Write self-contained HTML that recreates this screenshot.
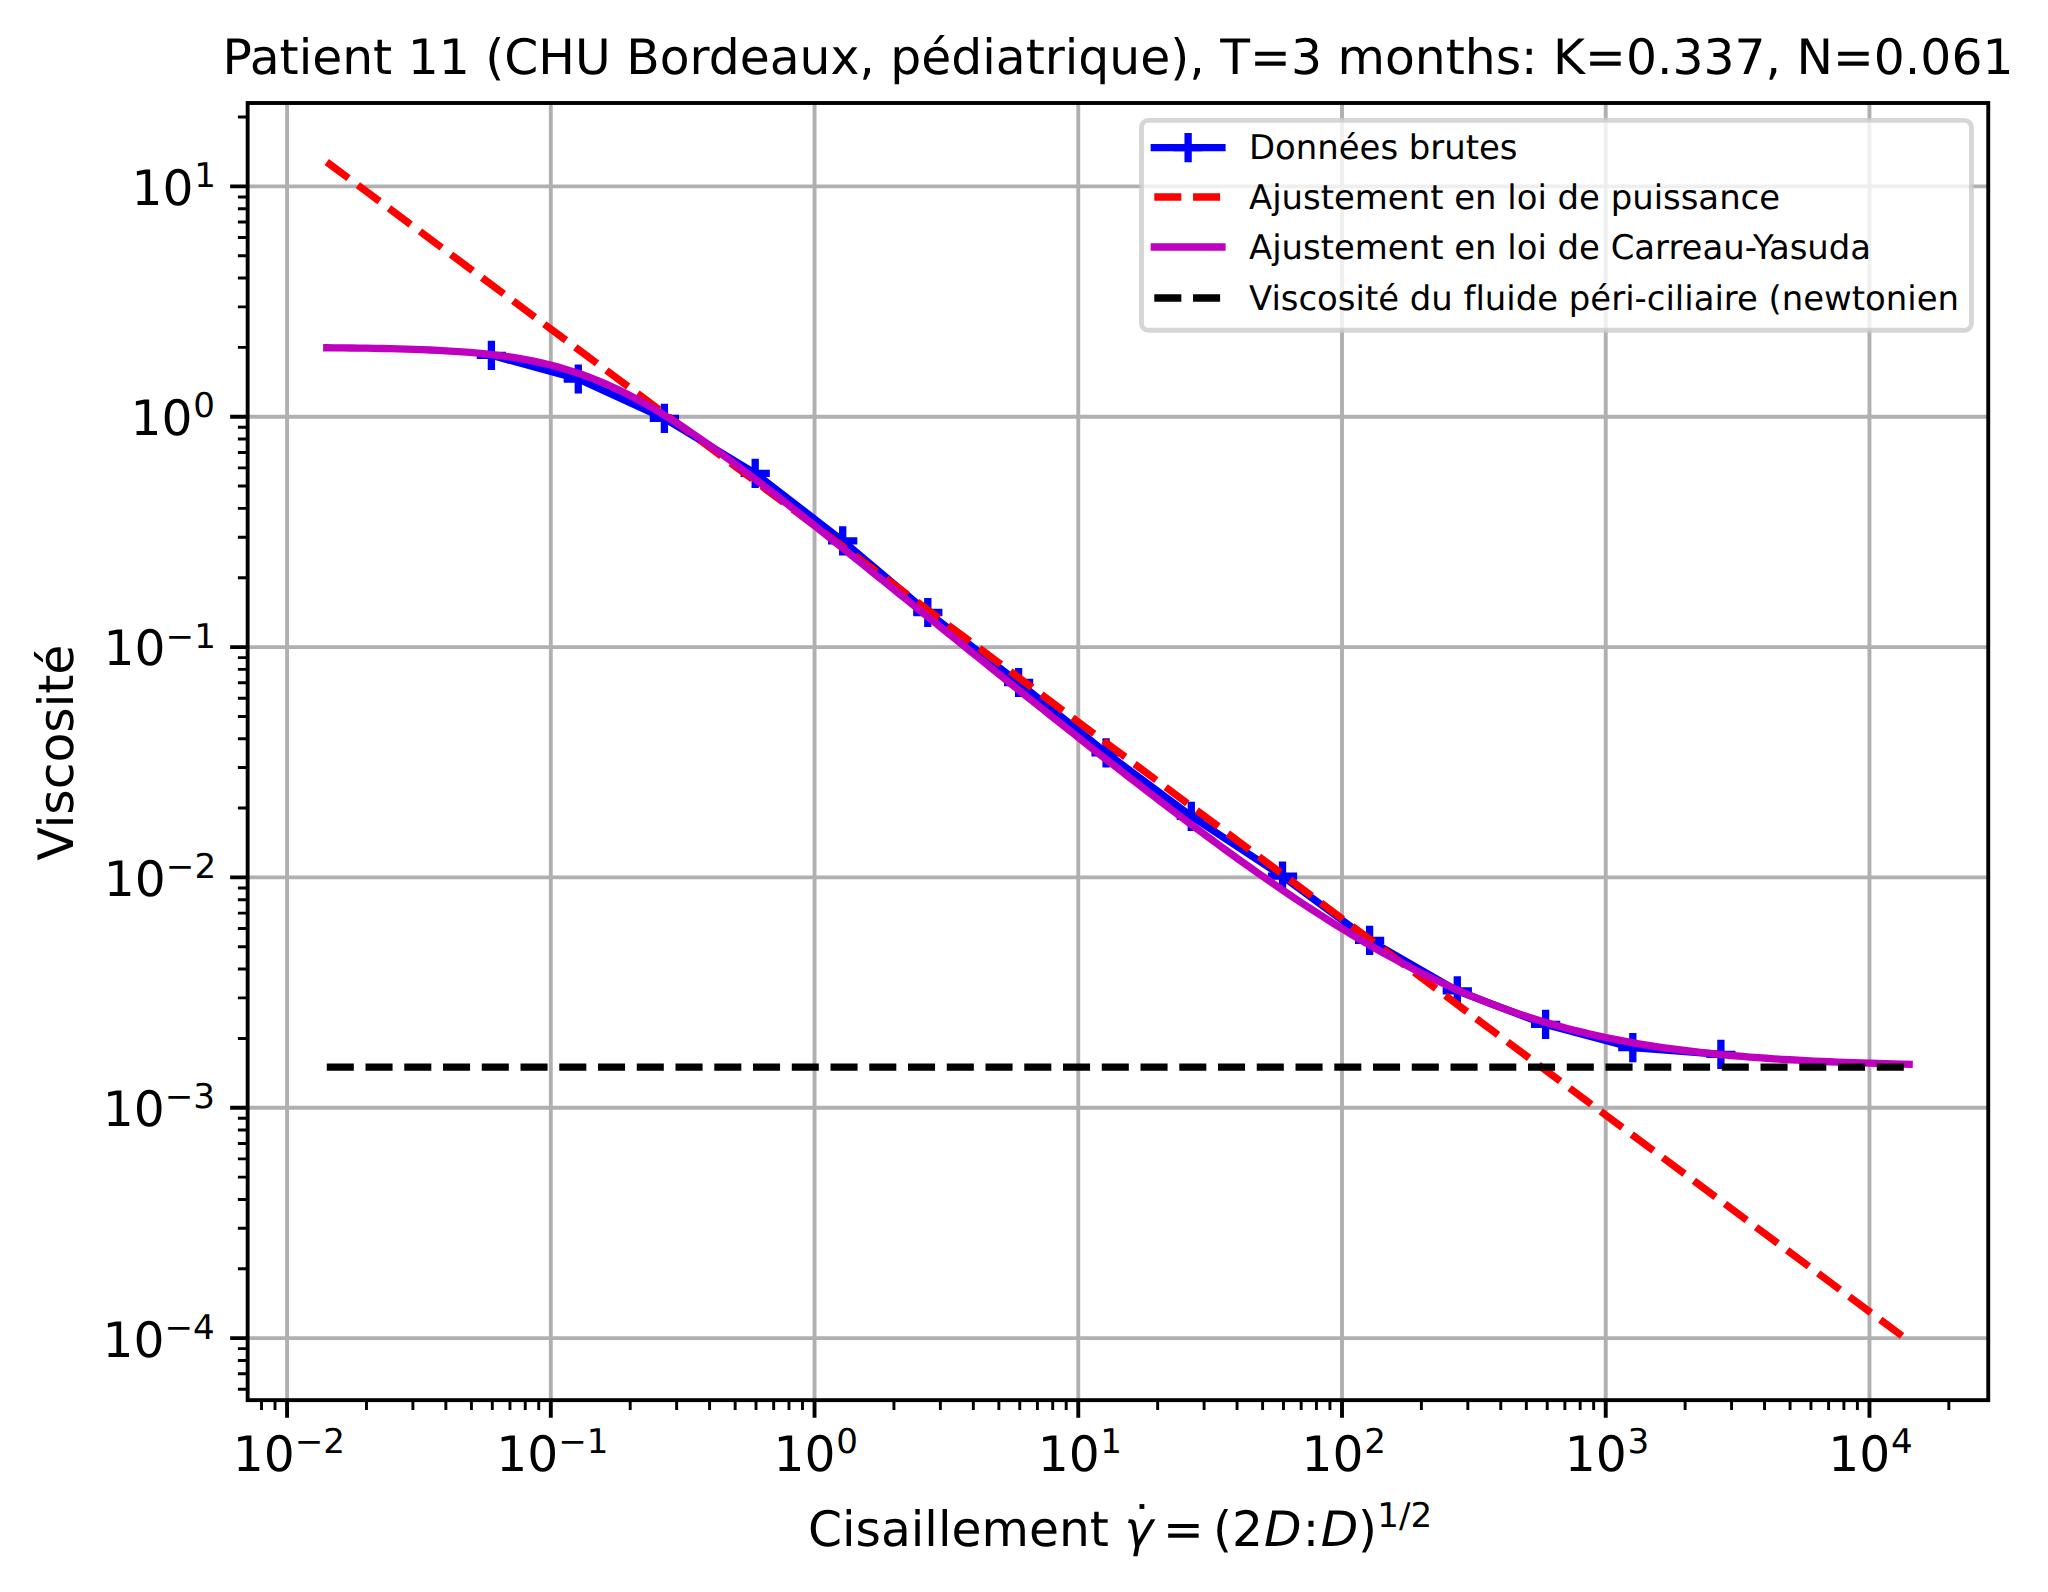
<!DOCTYPE html>
<html lang="fr"><head><meta charset="utf-8"><title>Patient 11</title>
<style>html,body{margin:0;padding:0;background:#fff}svg{display:block}text{text-rendering:geometricPrecision;font-variant-ligatures:none;font-family:"DejaVu Sans","Liberation Sans",sans-serif;fill:#000}.it{font-style:oblique}</style></head><body>
<svg width="2048" height="1592" viewBox="0 0 2048 1592">
<rect width="2048" height="1592" fill="#fff"/>
<defs><clipPath id="ax"><rect x="247.65" y="103.0" width="1740.60" height="1297.15"/></clipPath></defs>
<path d="M287.08 103.0V1400.15M550.81 103.0V1400.15M814.54 103.0V1400.15M1078.27 103.0V1400.15M1342.00 103.0V1400.15M1605.73 103.0V1400.15M1869.46 103.0V1400.15M247.65 1338.10H1988.25M247.65 1107.76H1988.25M247.65 877.42H1988.25M247.65 647.08H1988.25M247.65 416.74H1988.25M247.65 186.40H1988.25" stroke="#b0b0b0" stroke-width="3.90" fill="none"/>
<g clip-path="url(#ax)" fill="none">
<polyline points="491.40,355.30 578.30,379.00 664.40,418.40 755.20,473.30 842.70,540.80 927.80,612.50 1018.60,682.50 1106.10,752.80 1191.30,816.30 1282.50,876.20 1369.60,940.40 1457.30,990.95 1545.60,1024.45 1632.80,1047.60 1720.90,1054.40" stroke="#0000ff" stroke-width="7.31" stroke-linejoin="round" stroke-linecap="square"/>
<path d="M476.78 355.30h29.24M491.40 340.68v29.24M563.68 379.00h29.24M578.30 364.38v29.24M649.78 418.40h29.24M664.40 403.78v29.24M740.58 473.30h29.24M755.20 458.68v29.24M828.08 540.80h29.24M842.70 526.18v29.24M913.18 612.50h29.24M927.80 597.88v29.24M1003.98 682.50h29.24M1018.60 667.88v29.24M1091.48 752.80h29.24M1106.10 738.18v29.24M1176.68 816.30h29.24M1191.30 801.68v29.24M1267.88 876.20h29.24M1282.50 861.58v29.24M1354.98 940.40h29.24M1369.60 925.78v29.24M1442.68 990.95h29.24M1457.30 976.33v29.24M1530.98 1024.45h29.24M1545.60 1009.83v29.24M1618.18 1047.60h29.24M1632.80 1032.98v29.24M1706.28 1054.40h29.24M1720.90 1039.78v29.24" stroke="#0000ff" stroke-width="7.31"/>
<path d="M326.77 161.98L1909.15 1341.19" stroke="#ff0000" stroke-width="7.31" stroke-dasharray="27.05 11.70"/>
<polyline points="326.77,347.76 334.72,347.83 342.67,347.91 350.63,348.00 358.58,348.10 366.53,348.22 374.48,348.35 382.43,348.50 390.38,348.68 398.34,348.88 406.29,349.10 414.24,349.36 422.19,349.65 430.14,349.99 438.09,350.37 446.05,350.80 454.00,351.28 461.95,351.83 469.90,352.46 477.85,353.16 485.80,353.96 493.76,354.85 501.71,355.86 509.66,356.98 517.61,358.23 525.56,359.63 533.51,361.18 541.47,362.90 549.42,364.79 557.37,366.86 565.32,369.14 573.27,371.62 581.22,374.30 589.18,377.21 597.13,380.33 605.08,383.67 613.03,387.23 620.98,391.01 628.93,394.99 636.89,399.19 644.84,403.58 652.79,408.16 660.74,412.91 668.69,417.84 676.64,422.92 684.60,428.14 692.55,433.50 700.50,438.98 708.45,444.57 716.40,450.27 724.35,456.05 732.31,461.92 740.26,467.85 748.21,473.86 756.16,479.92 764.11,486.03 772.06,492.19 780.02,498.39 787.97,504.62 795.92,510.89 803.87,517.18 811.82,523.49 819.77,529.83 827.73,536.18 835.68,542.55 843.63,548.93 851.58,555.32 859.53,561.72 867.48,568.13 875.44,574.54 883.39,580.96 891.34,587.38 899.29,593.81 907.24,600.23 915.19,606.66 923.15,613.08 931.10,619.51 939.05,625.93 947.00,632.35 954.95,638.77 962.90,645.19 970.86,651.60 978.81,658.00 986.76,664.40 994.71,670.79 1002.66,677.18 1010.61,683.56 1018.57,689.93 1026.52,696.29 1034.47,702.64 1042.42,708.98 1050.37,715.31 1058.32,721.63 1066.28,727.94 1074.23,734.23 1082.18,740.51 1090.13,746.77 1098.08,753.02 1106.03,759.25 1113.99,765.46 1121.94,771.65 1129.89,777.82 1137.84,783.96 1145.79,790.09 1153.74,796.19 1161.70,802.26 1169.65,808.30 1177.60,814.32 1185.55,820.30 1193.50,826.25 1201.45,832.17 1209.41,838.05 1217.36,843.89 1225.31,849.69 1233.26,855.45 1241.21,861.16 1249.16,866.83 1257.12,872.44 1265.07,878.00 1273.02,883.51 1280.97,888.96 1288.92,894.36 1296.87,899.69 1304.83,904.95 1312.78,910.15 1320.73,915.28 1328.68,920.33 1336.63,925.31 1344.58,930.21 1352.54,935.03 1360.49,939.77 1368.44,944.42 1376.39,948.99 1384.34,953.46 1392.29,957.84 1400.25,962.13 1408.20,966.32 1416.15,970.41 1424.10,974.40 1432.05,978.28 1440.00,982.07 1447.96,985.75 1455.91,989.33 1463.86,992.80 1471.81,996.17 1479.76,999.43 1487.71,1002.58 1495.67,1005.62 1503.62,1008.57 1511.57,1011.40 1519.52,1014.13 1527.47,1016.76 1535.42,1019.29 1543.38,1021.72 1551.33,1024.05 1559.28,1026.28 1567.23,1028.42 1575.18,1030.47 1583.13,1032.42 1591.09,1034.29 1599.04,1036.07 1606.99,1037.77 1614.94,1039.38 1622.89,1040.92 1630.84,1042.39 1638.79,1043.78 1646.75,1045.10 1654.70,1046.35 1662.65,1047.54 1670.60,1048.67 1678.55,1049.74 1686.50,1050.75 1694.46,1051.71 1702.41,1052.61 1710.36,1053.47 1718.31,1054.27 1726.26,1055.04 1734.21,1055.76 1742.17,1056.44 1750.12,1057.08 1758.07,1057.68 1766.02,1058.25 1773.97,1058.78 1781.92,1059.29 1789.88,1059.76 1797.83,1060.21 1805.78,1060.63 1813.73,1061.03 1821.68,1061.40 1829.63,1061.75 1837.59,1062.08 1845.54,1062.39 1853.49,1062.68 1861.44,1062.95 1869.39,1063.21 1877.34,1063.45 1885.30,1063.68 1893.25,1063.89 1901.20,1064.09 1909.15,1064.28" stroke="#bf00bf" stroke-width="7.31" stroke-linejoin="round" stroke-linecap="square"/>
<path d="M326.77 1067.20H1909.15" stroke="#000" stroke-width="7.31" stroke-dasharray="27.05 11.70"/>
</g>
<path d="M287.08 1400.15v17.51M550.81 1400.15v17.51M814.54 1400.15v17.51M1078.27 1400.15v17.51M1342.00 1400.15v17.51M1605.73 1400.15v17.51M1869.46 1400.15v17.51M247.65 1338.10h-17.51M247.65 1107.76h-17.51M247.65 877.42h-17.51M247.65 647.08h-17.51M247.65 416.74h-17.51M247.65 186.40h-17.51" stroke="#000" stroke-width="3.90" fill="none"/>
<path d="M261.52 1400.15v9.75M275.01 1400.15v9.75M366.47 1400.15v9.75M412.91 1400.15v9.75M445.86 1400.15v9.75M471.42 1400.15v9.75M492.30 1400.15v9.75M509.96 1400.15v9.75M525.25 1400.15v9.75M538.74 1400.15v9.75M630.20 1400.15v9.75M676.64 1400.15v9.75M709.59 1400.15v9.75M735.15 1400.15v9.75M756.03 1400.15v9.75M773.69 1400.15v9.75M788.98 1400.15v9.75M802.47 1400.15v9.75M893.93 1400.15v9.75M940.37 1400.15v9.75M973.32 1400.15v9.75M998.88 1400.15v9.75M1019.76 1400.15v9.75M1037.42 1400.15v9.75M1052.71 1400.15v9.75M1066.20 1400.15v9.75M1157.66 1400.15v9.75M1204.10 1400.15v9.75M1237.05 1400.15v9.75M1262.61 1400.15v9.75M1283.49 1400.15v9.75M1301.15 1400.15v9.75M1316.44 1400.15v9.75M1329.93 1400.15v9.75M1421.39 1400.15v9.75M1467.83 1400.15v9.75M1500.78 1400.15v9.75M1526.34 1400.15v9.75M1547.22 1400.15v9.75M1564.88 1400.15v9.75M1580.17 1400.15v9.75M1593.66 1400.15v9.75M1685.12 1400.15v9.75M1731.56 1400.15v9.75M1764.51 1400.15v9.75M1790.07 1400.15v9.75M1810.95 1400.15v9.75M1828.61 1400.15v9.75M1843.90 1400.15v9.75M1857.39 1400.15v9.75M1948.85 1400.15v9.75M247.65 1389.20h-9.75M247.65 1373.78h-9.75M247.65 1360.42h-9.75M247.65 1348.64h-9.75M247.65 1268.76h-9.75M247.65 1228.20h-9.75M247.65 1199.42h-9.75M247.65 1177.10h-9.75M247.65 1158.86h-9.75M247.65 1143.44h-9.75M247.65 1130.08h-9.75M247.65 1118.30h-9.75M247.65 1038.42h-9.75M247.65 997.86h-9.75M247.65 969.08h-9.75M247.65 946.76h-9.75M247.65 928.52h-9.75M247.65 913.10h-9.75M247.65 899.74h-9.75M247.65 887.96h-9.75M247.65 808.08h-9.75M247.65 767.52h-9.75M247.65 738.74h-9.75M247.65 716.42h-9.75M247.65 698.18h-9.75M247.65 682.76h-9.75M247.65 669.40h-9.75M247.65 657.62h-9.75M247.65 577.74h-9.75M247.65 537.18h-9.75M247.65 508.40h-9.75M247.65 486.08h-9.75M247.65 467.84h-9.75M247.65 452.42h-9.75M247.65 439.06h-9.75M247.65 427.28h-9.75M247.65 347.40h-9.75M247.65 306.84h-9.75M247.65 278.06h-9.75M247.65 255.74h-9.75M247.65 237.50h-9.75M247.65 222.08h-9.75M247.65 208.72h-9.75M247.65 196.94h-9.75M247.65 117.06h-9.75" stroke="#000" stroke-width="2.92" fill="none"/>
<rect x="247.65" y="103.0" width="1740.60" height="1297.15" fill="none" stroke="#000" stroke-width="3.90" stroke-linejoin="miter"/>
<text x="232.63" y="1470.80" font-size="48.74">10<tspan dy="-17.90" dx="0" font-size="34.12">−2</tspan></text>
<text x="496.22" y="1470.80" font-size="48.74">10<tspan dy="-17.90" dx="0" font-size="34.12">−1</tspan></text>
<text x="773.46" y="1470.80" font-size="48.74">10<tspan dy="-17.90" dx="0.7" font-size="34.12">0</tspan></text>
<text x="1037.63" y="1470.80" font-size="48.74">10<tspan dy="-17.90" dx="0.7" font-size="34.12">1</tspan></text>
<text x="1301.50" y="1470.80" font-size="48.74">10<tspan dy="-17.90" dx="0.7" font-size="34.12">2</tspan></text>
<text x="1564.70" y="1470.80" font-size="48.74">10<tspan dy="-17.90" dx="0.7" font-size="34.12">3</tspan></text>
<text x="1828.24" y="1470.80" font-size="48.74">10<tspan dy="-17.90" dx="0.7" font-size="34.12">4</tspan></text>
<text x="102.39" y="1356.50" font-size="48.74">10<tspan dy="-17.90" dx="0" font-size="34.12">−4</tspan></text>
<text x="102.77" y="1126.16" font-size="48.74">10<tspan dy="-17.90" dx="0" font-size="34.12">−3</tspan></text>
<text x="103.82" y="895.82" font-size="48.74">10<tspan dy="-17.90" dx="0" font-size="34.12">−2</tspan></text>
<text x="103.55" y="665.48" font-size="48.74">10<tspan dy="-17.90" dx="0" font-size="34.12">−1</tspan></text>
<text x="130.55" y="435.14" font-size="48.74">10<tspan dy="-17.90" dx="0.7" font-size="34.12">0</tspan></text>
<text x="131.44" y="204.80" font-size="48.74">10<tspan dy="-17.90" dx="0.7" font-size="34.12">1</tspan></text>
<text x="1117.95" y="73.6" font-size="48.78" text-anchor="middle">Patient 11 (CHU Bordeaux, pédiatrique), T=3 months: K=0.337, N=0.061</text>
<text transform="translate(72.7 752.58) rotate(-90)" font-size="48.74" text-anchor="middle">Viscosité</text>
<text y="1545.9" font-size="48.74"><tspan x="808">Cisaillement </tspan><tspan class="it" x="1124.38">γ</tspan><tspan x="1163.0">=</tspan><tspan x="1213.1">(2</tspan><tspan class="it" x="1264.0">D</tspan><tspan x="1302.7">:</tspan><tspan class="it" x="1320.7">D</tspan><tspan x="1358.1">)</tspan><tspan x="1377.3" dy="-18.5" font-size="34.12">1/2</tspan></text>
<text x="1129.7" y="1541.3" font-size="48.74">˙</text>
<rect x="1141.5" y="120.4" width="829.90" height="209.90" rx="6.77" fill="#fff" fill-opacity="0.8" stroke="#cccccc" stroke-opacity="0.8" stroke-width="4.87"/>
<path d="M1154.30 147.6H1221.95" stroke="#0000ff" stroke-width="7.31" stroke-linecap="square"/>
<path d="M1173.50 147.6h29.24M1188.13 132.98v29.24" stroke="#0000ff" stroke-width="7.31"/>
<path d="M1154.30 197.0H1221.95" stroke="#ff0000" stroke-width="7.31" stroke-dasharray="27.05 11.70"/>
<path d="M1154.30 247.0H1221.95" stroke="#bf00bf" stroke-width="7.31" stroke-linecap="square"/>
<path d="M1154.30 298.0H1221.95" stroke="#000" stroke-width="7.31" stroke-dasharray="27.05 11.70"/>
<text x="1249.01" y="159.40" font-size="33.89">Données brutes</text>
<text x="1249.01" y="209.20" font-size="33.89">Ajustement en loi de puissance</text>
<text x="1249.01" y="258.90" font-size="33.89">Ajustement en loi de Carreau-Yasuda</text>
<text x="1249.01" y="309.70" font-size="33.89">Viscosité du fluide péri-ciliaire (newtonien</text>
</svg></body></html>
